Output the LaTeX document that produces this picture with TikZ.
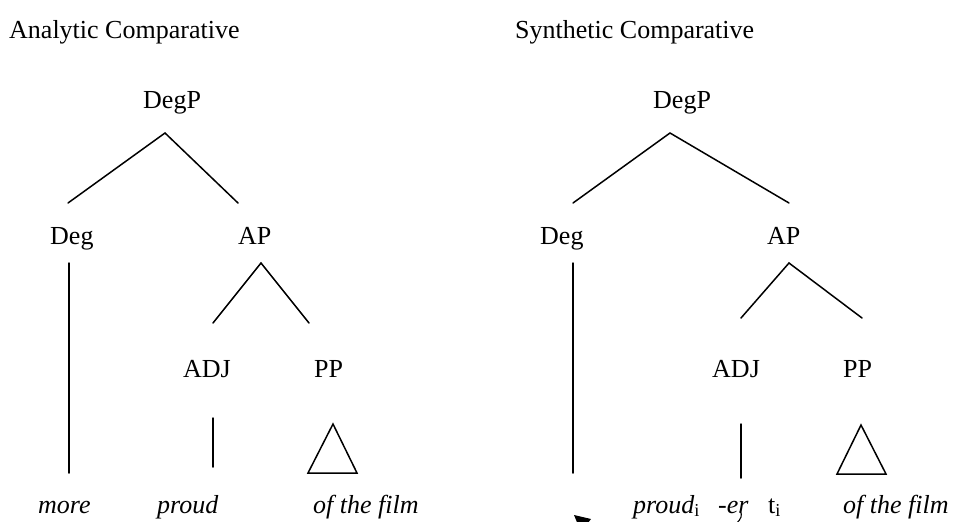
\documentclass[tikz,border=0pt]{standalone}
\usepackage{fontspec}
\setmainfont{Liberation Serif}
\begin{document}
\begin{tikzpicture}[x=1pt,y=-1pt,
  lbl/.style={inner sep=0pt, anchor=base west, font=\fontsize{26}{30}\selectfont},
  ttl/.style={inner sep=0pt, anchor=base west, font=\fontsize{26}{30}\selectfont},
  br/.style={line width=1.5pt, line cap=round, line join=miter}]
\useasboundingbox (0,0) rectangle (964,522);
\clip (0,0) rectangle (964,522);
% titles
\node[ttl] (t1) at (9,38) {Analytic Comparative};
\node[ttl] (t2) at (515,38) {Synthetic Comparative};
% left tree labels
\node[lbl] (a-degp) at (143,108) {DegP};
\node[lbl] (a-deg) at (50,244) {Deg};
\node[lbl] (a-ap) at (238,244) {AP};
\node[lbl] (a-adj) at (183,377) {ADJ};
\node[lbl] (a-pp) at (314,377) {PP};
\node[lbl] (a-more) at (38,513) {\textit{more}};
\node[lbl] (a-proud) at (157,513) {\textit{proud}};
\node[lbl] (a-film) at (313,513) {\textit{of the film}};
% left tree branches
\coordinate (a-top) at (165,133);
\coordinate (a-l) at (68,203);
\coordinate (a-r) at (238,203);
\draw[br] (a-l) -- (a-top) -- (a-r);
\coordinate (a-d1) at (69,263);
\coordinate (a-d2) at (69,473);
\draw[br] (a-d1) -- (a-d2);
\coordinate (a-aptop) at (261,263);
\coordinate (a-apl) at (213,323);
\coordinate (a-apr) at (309,323);
\draw[br] (a-apl) -- (a-aptop) -- (a-apr);
\coordinate (a-j1) at (213,418);
\coordinate (a-j2) at (213,467);
\draw[br] (a-j1) -- (a-j2);
\coordinate (a-tri1) at (333,424);
\coordinate (a-tri2) at (308,473);
\coordinate (a-tri3) at (357,473);
\draw[br] (a-tri1) -- (a-tri2) -- (a-tri3) -- cycle;
% right tree labels
\node[lbl] (b-degp) at (653,108) {DegP};
\node[lbl] (b-deg) at (540,244) {Deg};
\node[lbl] (b-ap) at (767,244) {AP};
\node[lbl] (b-adj) at (712,377) {ADJ};
\node[lbl] (b-pp) at (843,377) {PP};
\node[lbl] (b-proud) at (633,513) {\textit{proud}\textsubscript{i}};
\node[lbl] (b-er) at (718,513) {\textit{-er}};
\node[lbl] (b-t) at (768,513) {t\textsubscript{i}};
\node[lbl] (b-film) at (843,513) {\textit{of the film}};
% right tree branches
\coordinate (b-top) at (670,133);
\coordinate (b-l) at (573,203);
\coordinate (b-r) at (789,203);
\draw[br] (b-l) -- (b-top) -- (b-r);
\coordinate (b-d1) at (573,263);
\coordinate (b-d2) at (573,473);
\draw[br] (b-d1) -- (b-d2);
\coordinate (b-aptop) at (789,263);
\coordinate (b-apl) at (741,318);
\coordinate (b-apr) at (862,318);
\draw[br] (b-apl) -- (b-aptop) -- (b-apr);
\coordinate (b-j1) at (741,424);
\coordinate (b-j2) at (741,478);
\draw[br] (b-j1) -- (b-j2);
\coordinate (b-tri1) at (861,425);
\coordinate (b-tri2) at (837,474);
\coordinate (b-tri3) at (886,474);
\draw[br] (b-tri1) -- (b-tri2) -- (b-tri3) -- cycle;
% movement arrow (cut off at the bottom edge)
\coordinate (m1) at (740,511);
\coordinate (m2) at (736,524);
\draw[line width=1.1pt] (m1) .. controls (743,515) and (741,519) .. (m2);
\coordinate (h1) at (574,515);
\coordinate (h2) at (591,519);
\coordinate (h3) at (581,532);
\fill (h1) -- (h2) -- (h3) -- cycle;
\end{tikzpicture}
\end{document}
